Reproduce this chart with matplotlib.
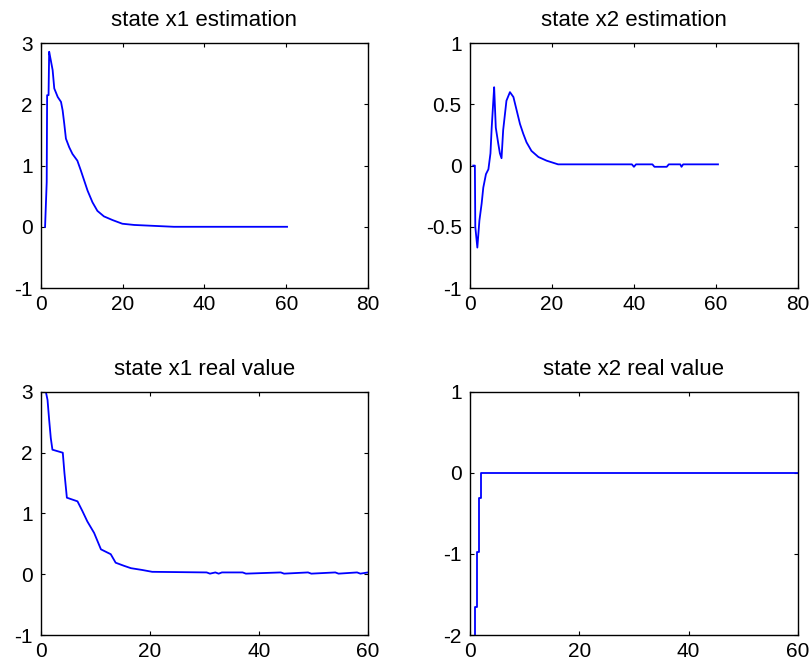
import numpy as np
import matplotlib
matplotlib.use("Agg")
import matplotlib.pyplot as plt

plt.rcParams['font.family'] = ['Liberation Sans', 'DejaVu Sans']

# estimated state x1
t_x1_est = [1.0, 1.0, 1.4, 1.5, 1.85, 2.0, 2.4, 2.85, 3.25, 4.1, 4.9, 5.3, 5.7, 6.1,
            6.9, 7.7, 8.9, 9.75, 10.6, 11.4, 12.6, 13.8, 15.4, 17.5, 19.9, 22.8,
            32.5, 60.2]
x1_est = [0.0, 0.0, 0.73, 2.15, 2.15, 2.86, 2.72, 2.56, 2.26, 2.12, 2.04, 1.9, 1.68,
          1.44, 1.30, 1.19, 1.08, 0.92, 0.75, 0.59, 0.40, 0.26, 0.17, 0.11, 0.05,
          0.03, 0.0, 0.0]

# estimated state x2
t_x2_est = [0.8, 1.2, 1.3, 1.8, 2.3, 2.85, 3.25, 3.9, 4.5, 5.0, 5.3, 5.7, 5.9, 6.3,
            6.9, 7.3, 7.7, 8.1, 8.9, 9.75, 10.6, 11.4, 12.2, 13.0, 13.8, 15.0, 16.7,
            18.7, 21.5, 39.5, 40.0, 40.5, 44.5, 45.0, 48.0, 48.5, 51.3, 51.6, 52.0,
            60.5]
x2_est = [0.0, 0.0, -0.5, -0.67, -0.45, -0.31, -0.18, -0.07, -0.03, 0.1, 0.31, 0.53,
          0.64, 0.31, 0.18, 0.10, 0.06, 0.29, 0.53, 0.60, 0.56, 0.45, 0.34, 0.26,
          0.19, 0.12, 0.07, 0.04, 0.01, 0.01, -0.01, 0.01, 0.01, -0.01, -0.01, 0.01,
          0.01, -0.01, 0.01, 0.01]

# real state x1
t_x1_real = [0.9, 1.2, 1.5, 1.8, 2.1, 4.0, 4.3, 4.75, 6.7, 7.6, 8.5, 9.75, 11.0, 12.8,
             13.7, 15.2, 16.5, 18.6, 20.4, 30.4, 31.0, 32.0, 32.6, 33.2, 37.0, 37.6,
             44.0, 44.6, 49.0, 49.6, 54.0, 54.6, 58.0, 58.6, 60.0]
x1_real = [3.0, 2.87, 2.54, 2.24, 2.05, 2.0, 1.67, 1.26, 1.2, 1.04, 0.87, 0.68, 0.41,
           0.33, 0.19, 0.14, 0.10, 0.07, 0.04, 0.03, 0.01, 0.03, 0.01, 0.03, 0.03,
           0.01, 0.03, 0.01, 0.03, 0.01, 0.03, 0.01, 0.03, 0.01, 0.03]

# real state x2
t_x2_real = [0.9, 0.9, 1.2, 1.2, 1.65, 1.65, 2.0, 2.0, 60.0]
x2_real = [-2.0, -1.66, -1.66, -0.98, -0.98, -0.31, -0.31, 0.0, 0.0]

panels = [
    ("state x1 estimation", t_x1_est, x1_est, (0, 80), (-1, 3), [0, 20, 40, 60, 80], [-1, 0, 1, 2, 3]),
    ("state x2 estimation", t_x2_est, x2_est, (0, 80), (-1, 1), [0, 20, 40, 60, 80], [-1, -0.5, 0, 0.5, 1]),
    ("state x1 real value", t_x1_real, x1_real, (0, 60), (-1, 3), [0, 20, 40, 60], [-1, 0, 1, 2, 3]),
    ("state x2 real value", t_x2_real, x2_real, (0, 60), (-2, 1), [0, 20, 40, 60], [-2, -1, 0, 1]),
]

rects = [
    [0.0506, 0.5695, 0.4037, 0.3660],
    [0.5802, 0.5695, 0.4049, 0.3660],
    [0.0506, 0.0508, 0.4037, 0.3633],
    [0.5802, 0.0508, 0.4049, 0.3633],
]

fig = plt.figure(figsize=(8.1, 6.69), dpi=100)

for rect, (title, t, v, xl, yl, xt, yt) in zip(rects, panels):
    ax = fig.add_axes(rect)
    ax.plot(t, v, color='#0000ff', lw=1.3)
    ax.set_xlim(*xl)
    ax.set_ylim(*yl)
    ax.set_xticks(xt)
    ax.set_yticks(yt)
    ax.set_yticklabels(['%g' % y for y in yt])
    ax.tick_params(direction='in', length=3, width=0.8, top=True, right=True,
                   labelsize=15)
    ax.tick_params(axis='x', pad=5)
    ax.tick_params(axis='y', pad=6)
    for s in ax.spines.values():
        s.set_linewidth(1.0)
    ax.set_title(title, fontsize=16, pad=12)

fig.savefig('out.png', dpi=100)
